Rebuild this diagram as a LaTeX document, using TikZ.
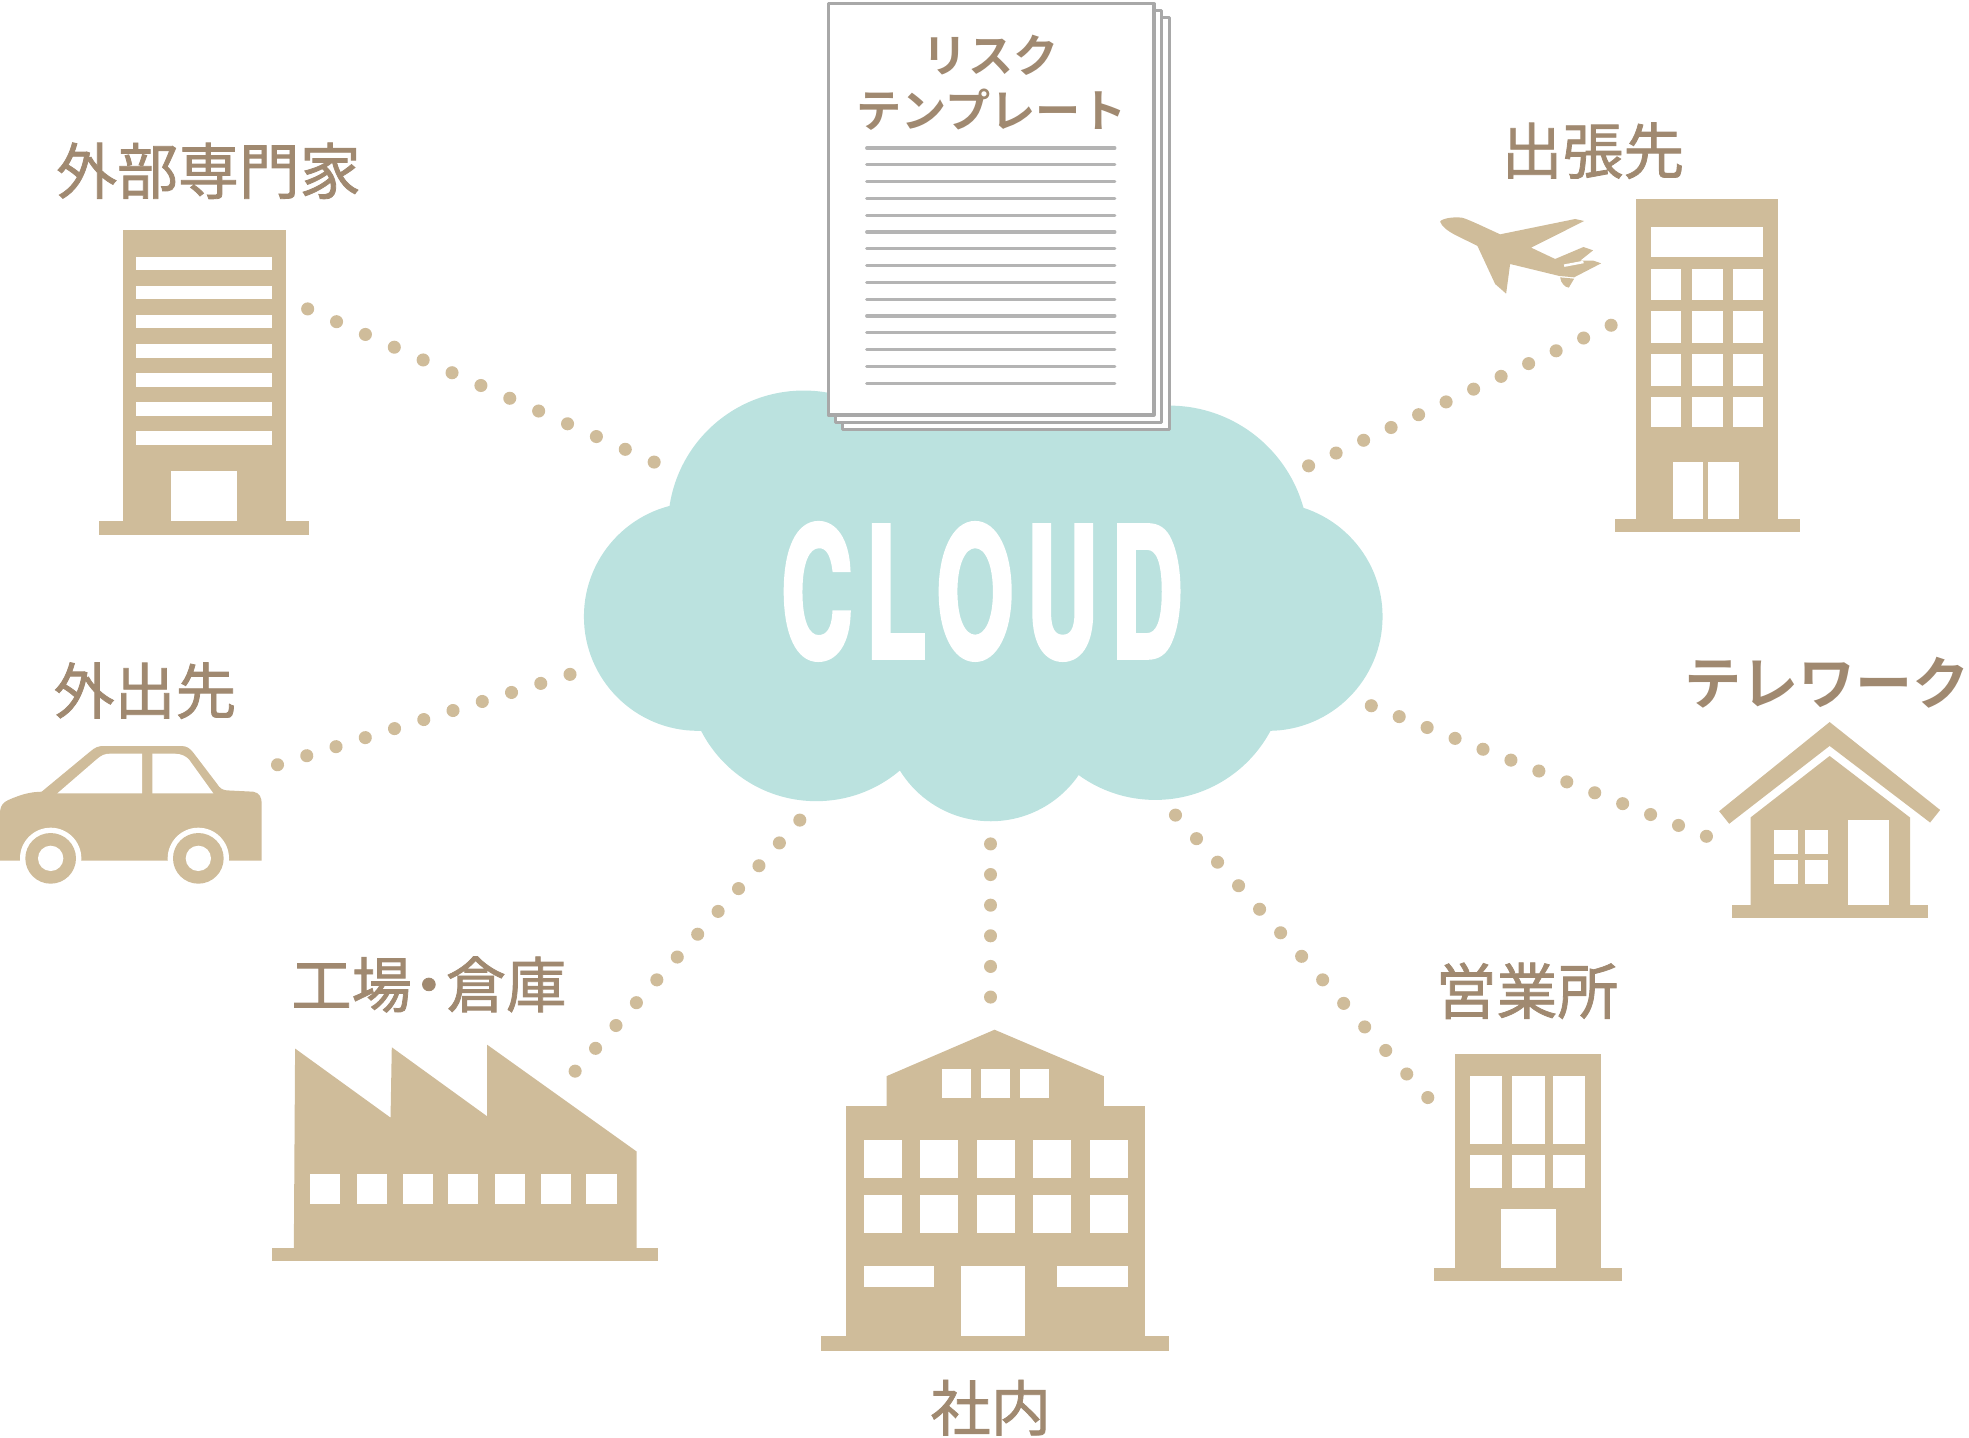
\documentclass[tikz,border=0pt]{standalone}
\usepackage{fontspec}
\newfontfamily\cjk{Noto Sans CJK JP}[FakeBold=1.3]
\newfontfamily\cjkkana{Noto Sans CJK JP Bold}
\newfontfamily\cloudfont{TeX Gyre Heros}[FakeStretch=0.54,LetterSpace=7.5,BoldFont={TeX Gyre Heros Bold},BoldFeatures={FakeBold=2.2}]
\definecolor{tan}{HTML}{CFBC9A}
\definecolor{labelbrown}{HTML}{A08970}
\definecolor{cloudblue}{HTML}{BBE2DF}
\definecolor{pagegray}{HTML}{A8A8A8}
\definecolor{linegray}{HTML}{B4B4B4}
\tikzset{
  x=1pt,y=-1pt,
  solid tan/.style={fill=tan,draw=none},
  hole/.style={fill=white,draw=none},
  cloudpart/.style={fill=cloudblue,draw=none},
  labeltext/.style={font=\cjk\fontsize{#1}{#1}\selectfont,text=labelbrown,inner sep=0pt,align=center},
  kanatext/.style={font=\cjkkana\fontsize{#1}{#1}\selectfont,text=labelbrown,inner sep=0pt,align=center},
  dotline/.style={line width=10.4pt,color=tan,line cap=round,dash pattern=on 0.01pt off #1pt},
  sheet/.style={fill=white,draw=pagegray,line width=2.5pt,line join=round},
  ruleline/.style={draw=linegray,line width=2.5pt,line cap=round},
}
\newcommand{\holes}[2]{\foreach \xa/\xb in {#1}{\foreach \ya/\yb in {#2}{\fill[hole] (\xa,\ya) rectangle (\xb,\yb);}}}
\begin{document}
\begin{tikzpicture}
\useasboundingbox (0,0) rectangle (1568,1145.1);
% cloud
\foreach \cx/\cy/\r in {556/491/91,640/419/108,931/434/111,1010/491/91,650/535/103,789/569/85,920/533/104}{
  \fill[cloudpart] (\cx,\cy) circle[radius=\r];}
\fill[cloudpart] (600,330) -- (960,330) -- (1030,400) -- (1010,580) -- (560,580) -- (560,400) -- cycle;
\node[inner sep=0pt,text=white] (cloudword) at (782,471) {\cloudfont\bfseries\fontsize{145}{145}\selectfont CLOUD};
% document stack
\draw[sheet] (671,14) rectangle (931,342);
\draw[sheet] (665,8.5) rectangle (925,336.5);
\draw[sheet] (659.5,3) rectangle (919,330.5);
\foreach \i in {0,...,14}{\draw[ruleline] (690.2,117.9+13.37*\i) -- (887.8,117.9+13.37*\i);}
\node[kanatext=36] (risk) at (789,44) {リスク};
\node[kanatext=36] (template) at (789.5,87) {テンプレート};
% expert office
\fill[solid tan] (98,183) rectangle (228,415);
\fill[solid tan] (79,415) rectangle (246,426);
\holes{108/217}{205/215,228/238,251/261,274/285,297/308,320/331,343/354}
\fill[hole] (136,375) rectangle (189,415);
\node[labeltext=48.5] (expert) at (166,136) {外部専門家};
% travel building
\fill[solid tan] (1303,158.5) rectangle (1416,413);
\fill[solid tan] (1286,413) rectangle (1433,424);
\fill[hole] (1315,181) rectangle (1404,205);
\holes{1315/1339,1347/1372,1380/1404}{214/239,248/273,282/307,316/340}
\fill[hole] (1332,368) rectangle (1385,413);
\fill[solid tan] (1356,368) rectangle (1360,413);
\node[labeltext=48.5] (travel) at (1268.5,120) {出張先};
% plane
\begin{scope}[shift={(1130.9,151.3)},scale=0.26546]
\fill[solid tan] (60,95) .. controls (65,85) and (100,80) .. (125,83) .. controls (140,86) and (190,110) .. (240,133)
  -- (465,87) -- (492,93) -- (333,173) -- (405,207) -- (490,171) -- (519,181) -- (480,212) -- (520,212) -- (543,220)
  -- (462,262) -- (418,258) -- (270,222) -- (258,311) -- (225,282) -- (172,168) .. controls (130,145) and (70,125) .. (60,95) -- cycle;
\fill[solid tan] (420,262) -- (462,266) -- (446,293) .. controls (435,292) and (422,280) .. (420,262) -- cycle;
\draw[white,line width=2pt] (432,227) -- (490,216);
\end{scope}
% car
\begin{scope}[shift={(0,509.67)},scale=0.26546]
\fill[solid tan] (0,662) -- (0,515) .. controls (2,495) and (10,487) .. (25,480) .. controls (70,460) and (95,456) .. (125,455)
  -- (270,335) .. controls (285,322) and (295,318) .. (310,318) -- (545,318) .. controls (560,318) and (570,325) .. (580,338)
  -- (650,430) .. controls (660,445) and (665,449) .. (680,451) -- (760,455) .. controls (780,458) and (785,475) .. (785,490) -- (785,662) -- cycle;
\fill[hole] (172,460) -- (290,358) .. controls (305,345) and (315,341) .. (330,341) -- (426,341) -- (426,460) -- cycle;
\fill[hole] (457,341) -- (525,341) .. controls (545,342) and (558,348) .. (568,360) -- (640,460) -- (457,460) -- cycle;
\foreach \wx in {152,595}{
  \fill[hole] (\wx,655) circle[radius=92];
  \fill[solid tan] (\wx,655) circle[radius=76];
  \fill[hole] (\wx,655) circle[radius=38];}
\end{scope}
\node[labeltext=48.5] (outside) at (115.5,550) {外出先};
% house
\fill[solid tan] (1369,646) -- (1457,575) -- (1545,645) -- (1537,655) -- (1457,594) -- (1377,656) -- cycle;
\fill[solid tan] (1394,651) -- (1457,602) -- (1521,651) -- (1521,721) -- (1394,721) -- cycle;
\fill[solid tan] (1379,721) rectangle (1535,731);
\holes{1413/1432,1437/1456}{661/680,685/704}
\fill[hole] (1472,653) rectangle (1504,721);
\node[kanatext=45.5] (telework) at (1455,544) {テレワーク};
% factory
\fill[solid tan] (234,994) -- (235,835) -- (311,890) -- (312,834) -- (388,889) -- (388,832) -- (507,917) -- (507,994) -- cycle;
\fill[solid tan] (217,994) rectangle (524,1004);
\holes{247/271,284/308,321/345,357/381,394/418,431/455,467/491}{935/959}
\node[labeltext=48] (factory) at (341.5,784) {工場\kern-10.5pt ・\kern-10.5pt 倉庫};
% head office
\fill[solid tan] (674,881) rectangle (912,1064);
\fill[solid tan] (654,1064) rectangle (931,1076);
\fill[solid tan] (706,881) -- (706,857) -- (792,820) -- (879,857) -- (879,881) -- cycle;
\holes{750/773,781/804,812/835}{851/874}
\holes{688/718,733/763,778/808,823/853,868/898}{908/938,952/982}
\holes{688/744,842/898}{1008/1025}
\fill[hole] (765,1008) rectangle (816,1064);
\node[labeltext=48] (headoffice) at (789,1121) {社内};
% sales office
\fill[solid tan] (1159,839) rectangle (1275,1010);
\fill[solid tan] (1142,1010) rectangle (1292,1020);
\holes{1171/1196,1204/1230,1237/1262}{857/911,920/946}
\fill[hole] (1195,963) rectangle (1239,1010);
\node[labeltext=48.5] (sales) at (1216,789) {営業所};
% connector ends
\coordinate (expertEnd) at (245,246); \coordinate (cloudA) at (521,368);
\coordinate (travelEnd) at (1283,259); \coordinate (cloudB) at (1042,371);
\coordinate (outsideEnd) at (221,609); \coordinate (cloudC) at (454,537);
\coordinate (teleworkEnd) at (1359,666); \coordinate (cloudD) at (1092,562);
\coordinate (factoryEnd) at (458,853); \coordinate (cloudE) at (637,653);
\coordinate (headEnd) at (789,794); \coordinate (cloudF) at (789,672);
\coordinate (salesEnd) at (1137,874); \coordinate (cloudG) at (936,649);
\draw[dotline=25.13] (expertEnd) -- (cloudA);
\draw[dotline=24.14] (travelEnd) -- (cloudB);
\draw[dotline=24.37] (outsideEnd) -- (cloudC);
\draw[dotline=23.86] (cloudD) -- (teleworkEnd);
\draw[dotline=24.38] (factoryEnd) -- (cloudE);
\draw[dotline=24.38] (headEnd) -- (cloudF);
\draw[dotline=25.12] (salesEnd) -- (cloudG);
\end{tikzpicture}
\end{document}
